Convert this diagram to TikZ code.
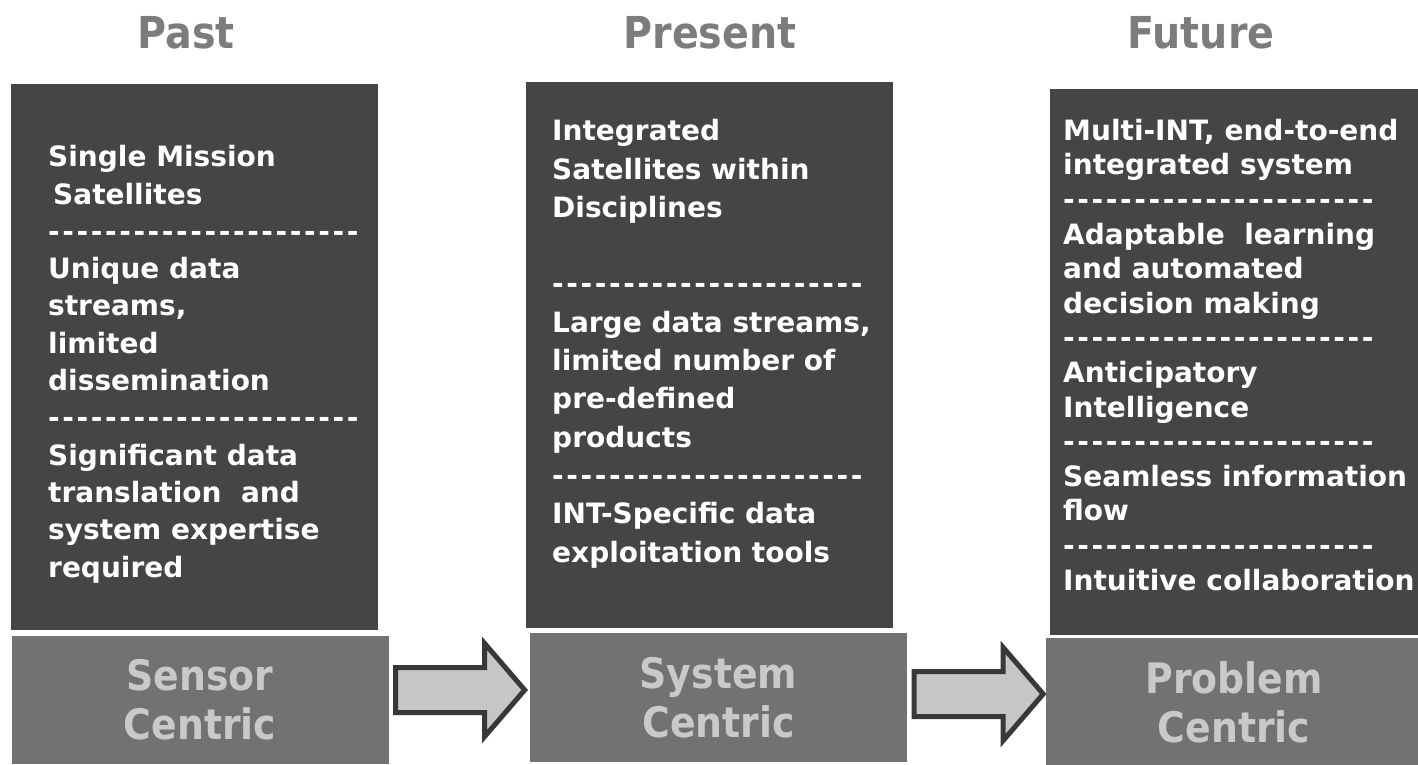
\documentclass[tikz,border=0pt]{standalone}
\usepackage{fontspec}
\setmainfont{DejaVu Sans}
\newfontfamily\headfont{DejaVu Sans}[FakeStretch=0.9]
\usetikzlibrary{calc}

\definecolor{boxdark}{HTML}{454545}
\definecolor{boxmid}{HTML}{727272}
\definecolor{headgray}{HTML}{7C7C7C}
\definecolor{labelgray}{HTML}{C9C9C9}
\definecolor{arrowfill}{HTML}{C6C6C6}
\definecolor{arrowline}{HTML}{383838}

\newcommand\dashrow{\foreach\k in {1,...,22}{-\kern2.6pt}}
\newcommand\blockarrow[2]{\draw[blockarrow] ($(#1.east)+(7,#2)$) -- ++(89,0) -- ++(0,-24) -- ++(40,46.5) -- ++(-40,46.5) -- ++(0,-24) -- ++(-89,0) -- cycle;}

\tikzset{
	darkbox/.style={rectangle, fill=boxdark, minimum width=367pt, minimum height=546pt, anchor=north west, inner sep=0pt},
	centricbox/.style={rectangle, fill=boxmid, text=labelgray, minimum width=377pt, minimum height=128pt, align=center, inner sep=0pt, font=\headfont\bfseries\fontsize{42}{49}\selectfont},
	heading/.style={anchor=base, text=headgray, inner sep=0pt, font=\headfont\bfseries\fontsize{44}{50}\selectfont},
	bodytext/.style={anchor=base west, align=left, text=white, inner sep=0pt},
	blockarrow/.style={fill=arrowfill, draw=arrowline, line width=5pt, line join=miter}
}

\begin{document}
\begin{tikzpicture}[x=1pt, y=-1pt]
			\useasboundingbox (0,0) rectangle (1418,764);
			\foreach \x/\t in {186/Past, 710/Present, 1201/Future}
				\node[heading, name=head-\t] at (\x, 48) {\t};
			\node[darkbox] (pastbox) at (11, 84) {};
			\node[darkbox] (presentbox) at (526, 82) {};
			\node[darkbox, minimum width=372pt] (futurebox) at (1050, 89) {};
			\node[centricbox] (sensor) at (200, 699.5) {Sensor\\Centric};
			\node[centricbox, minimum height=129pt] (system) at (718.5, 697.5) {System\\Centric};
			\node[centricbox] (problem) at (1234, 702) {Problem\\Centric};
			\blockarrow{sensor}{-32}
			\blockarrow{system}{-26}
			\node[bodytext, font=\bfseries\fontsize{28}{37.3}\selectfont] (pasttext) at (48, 577)
				{Single Mission\\\hspace*{5pt}Satellites\\\dashrow\\Unique data\\streams,\\limited\\dissemination\\\dashrow\\Significant data\\translation\ \ and\\system expertise\\required};
			\node[bodytext, font=\bfseries\fontsize{28}{38.3}\selectfont] (presenttext) at (552, 562)
				{Integrated\\Satellites within\\Disciplines\\[38.3pt]\dashrow\\Large data streams,\\limited number of\\pre-defined\\products\\\dashrow\\INT-Specific data\\exploitation tools};
			\node[bodytext, font=\bfseries\fontsize{28}{34.6}\selectfont] (futuretext) at (1063, 590)
				{Multi-INT, end-to-end\\integrated system\\\dashrow\\Adaptable\ \ learning\\and automated\\decision making\\\dashrow\\Anticipatory\\Intelligence\\\dashrow\\Seamless information\\flow\\\dashrow\\Intuitive collaboration};
		\end{tikzpicture}
\end{document}
